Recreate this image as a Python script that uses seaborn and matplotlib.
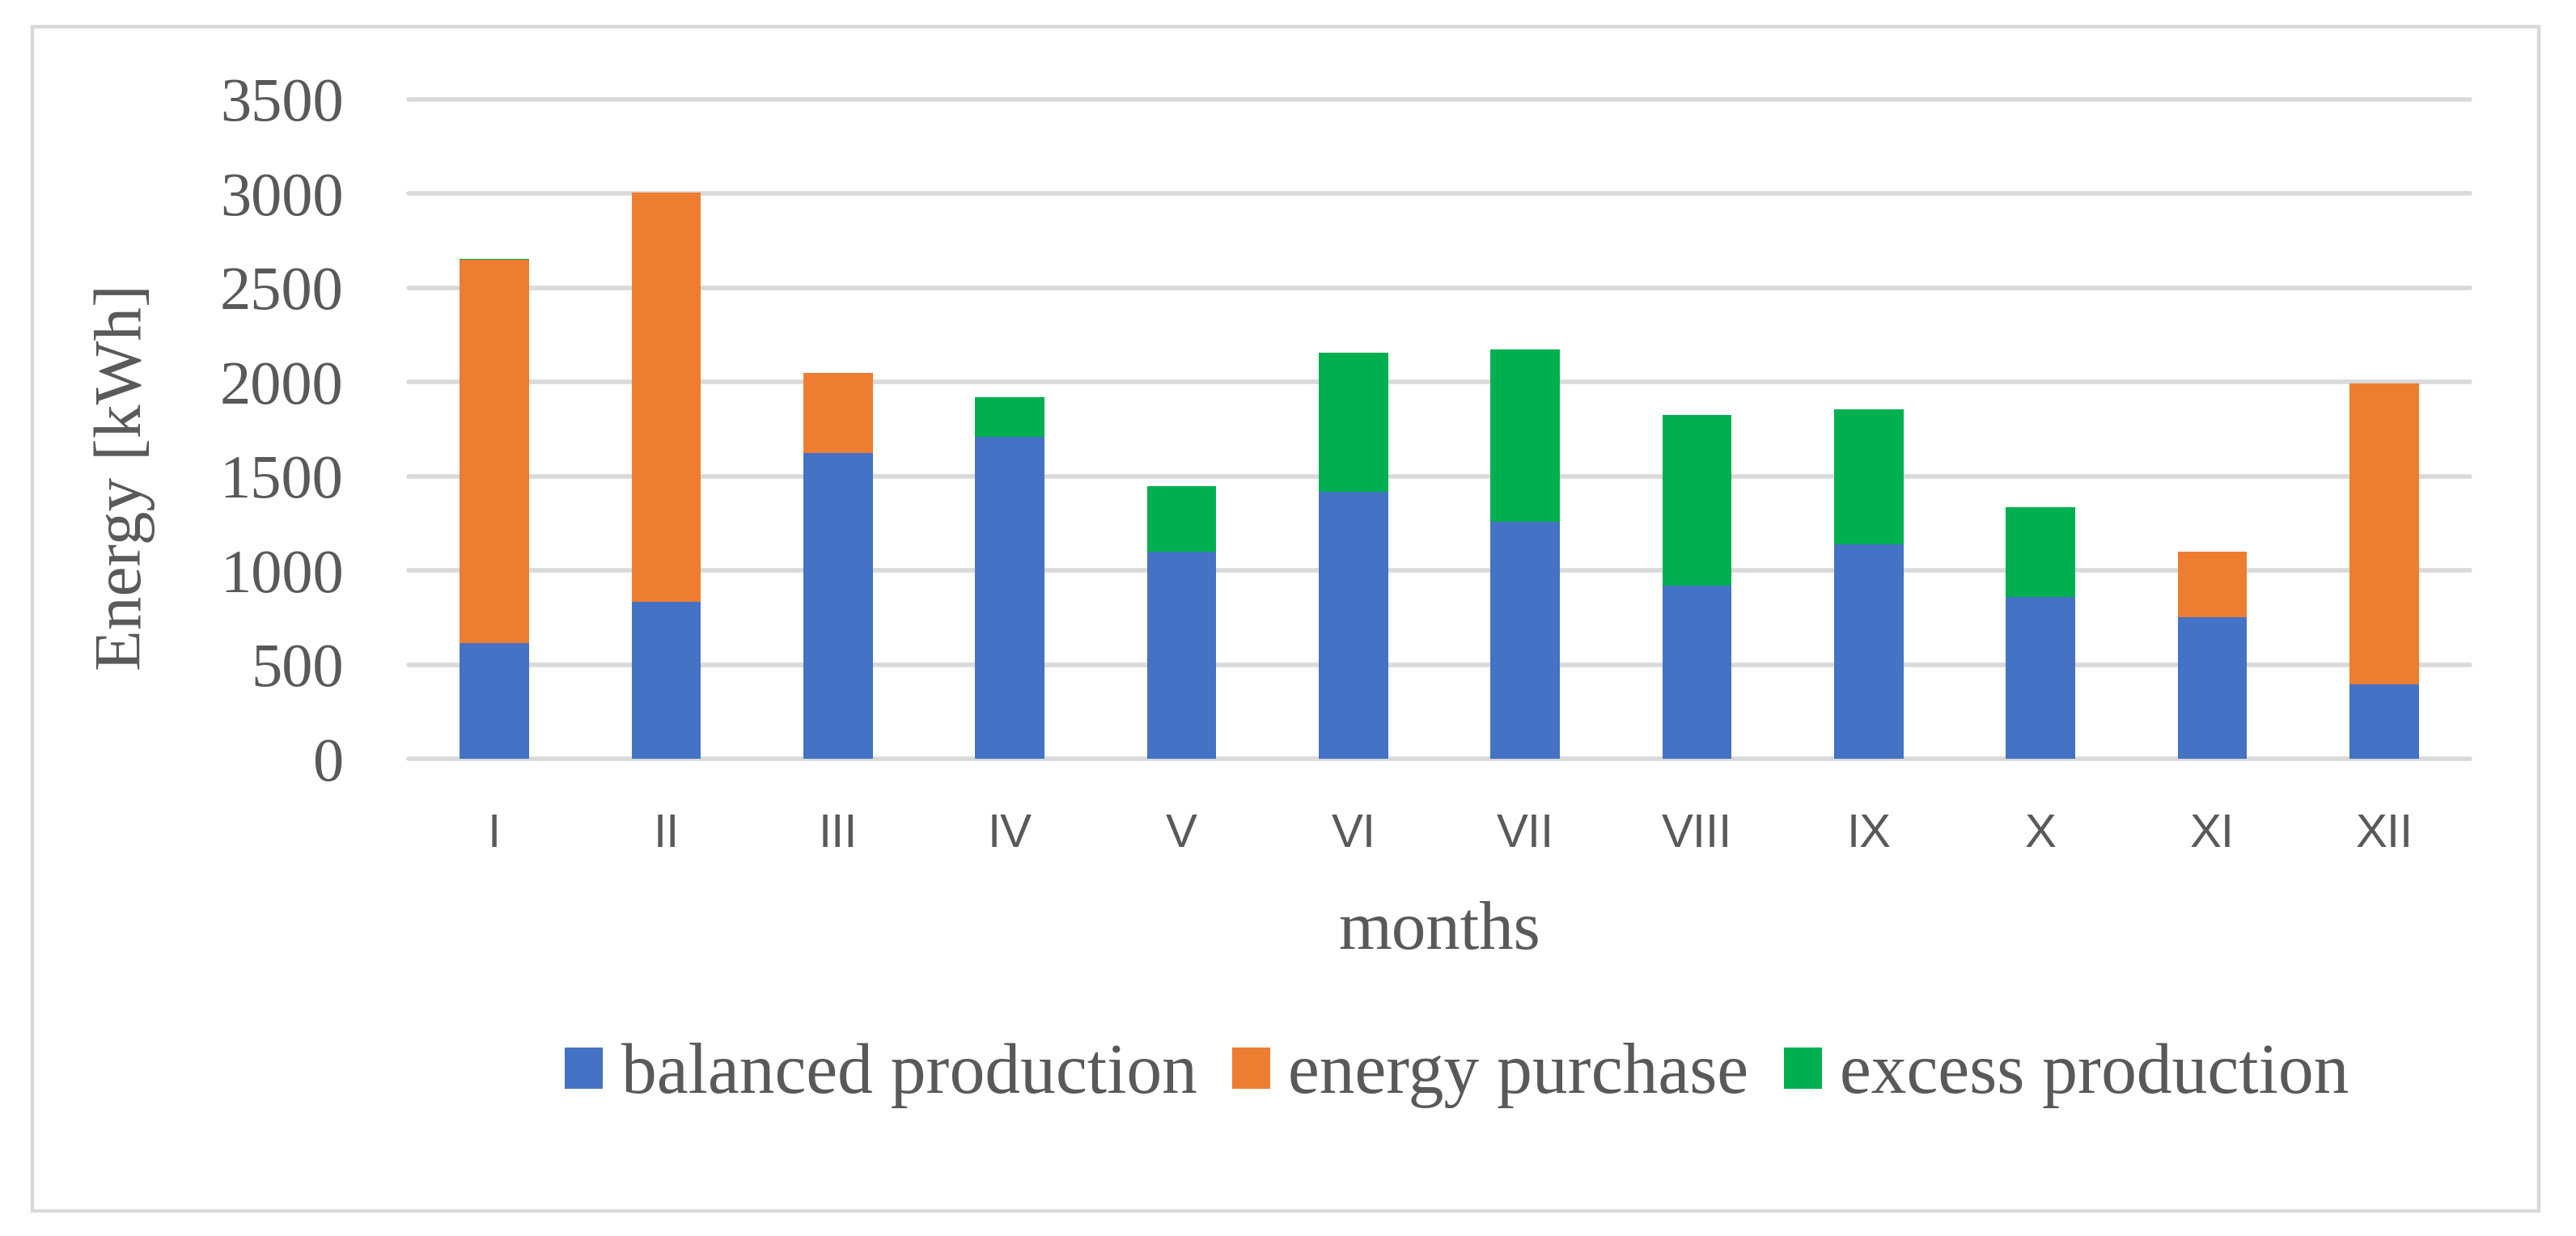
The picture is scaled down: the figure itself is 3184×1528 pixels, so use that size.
import numpy as np
import pandas as pd
import matplotlib
matplotlib.use("Agg")
import matplotlib.pyplot as plt
from matplotlib.patches import Patch, Rectangle
import seaborn as sns

months = ["I", "II", "III", "IV", "V", "VI", "VII", "VIII", "IX", "X", "XI", "XII"]
balanced = [616, 835, 1624, 1709, 1098, 1416, 1257, 918, 1137, 857, 750, 397]
purchase = [2035, 2172, 425, 0, 0, 0, 0, 0, 0, 0, 348, 1597]
excess = [5, 0, 0, 211, 351, 740, 918, 909, 720, 480, 0, 0]
series_names = ["balanced production", "energy purchase", "excess production"]
yticks = [0, 500, 1000, 1500, 2000, 2500, 3000, 3500]

C_BLUE, C_ORANGE, C_GREEN = "#4472C4", "#ED7D31", "#00B050"
TXT = "#595959"
GRID = "#D9D9D9"

sns.set_theme(style="white")
plt.rcParams["font.family"] = ["Liberation Serif", "DejaVu Serif"]

df = pd.DataFrame({"month": months, "balanced": balanced,
                   "purchase": purchase, "excess": excess})
df["lvl1"] = df["balanced"]
df["lvl2"] = df["balanced"] + df["purchase"]
df["lvl3"] = df["lvl2"] + df["excess"]

W, H, DPI = 3184, 1528, 200
fig = plt.figure(figsize=(W / DPI, H / DPI), dpi=DPI)
fig.patch.set_facecolor("white")
L, R, T, B = 505, 3053, 123, 938
ax = fig.add_axes([L / W, 1 - B / H, (R - L) / W, (B - T) / H])

for col, c in [("lvl3", "#3DB58A"), ("lvl2", C_ORANGE), ("lvl1", C_BLUE)]:
    pass

layers = [("lvl3", C_GREEN), ("lvl2", C_ORANGE), ("lvl1", C_BLUE)]
for col, c in layers:
    sns.barplot(data=df, x="month", y=col, order=months, color=c,
                width=0.405, saturation=1, linewidth=0, ax=ax, zorder=3)

ax.set_xlim(-0.5, 11.5)
ax.set_ylim(0, 3500)
ax.set_yticks(yticks)
ax.set_yticklabels([str(v) for v in yticks])
for s in ax.spines.values():
    s.set_visible(False)
ax.grid(False)
for v in yticks:
    ax.axhline(v, color=GRID, lw=2.0, zorder=1, clip_on=False)
ax.tick_params(axis="both", length=0)
ax.tick_params(axis="y", pad=29, labelsize=27.5, labelcolor=TXT)
ax.tick_params(axis="x", pad=24, labelsize=21, labelcolor=TXT)
for lab in ax.get_xticklabels():
    lab.set_family(["Liberation Sans", "DejaVu Sans"])

ax.set_ylabel("Energy [kWh]", fontsize=30, color=TXT)
ax.yaxis.label.set_va("center")
ax.yaxis.set_label_coords((154 - L) / (R - L), (B - 590) / (B - T))
ax.set_xlabel("months", fontsize=30.5, color=TXT)
ax.xaxis.label.set_va("center")
ax.xaxis.set_label_coords(0.5, (B - 1152) / (B - T))

handles = [Patch(facecolor=C_BLUE, edgecolor="none"),
           Patch(facecolor=C_ORANGE, edgecolor="none"),
           Patch(facecolor=C_GREEN, edgecolor="none")]
leg = fig.legend(handles, series_names, loc="center",
                 bbox_to_anchor=(1801 / W, 1 - 1330 / H), ncol=3, frameon=False,
                 fontsize=31.5, handlelength=0.53, handleheight=0.53,
                 handletextpad=0.26, columnspacing=0.5, borderaxespad=0)
for t in leg.get_texts():
    t.set_color(TXT)

fig.patches.append(Rectangle((40 / W, 1 - 1497 / H), (3138 - 40) / W, (1497 - 33) / H,
                             transform=fig.transFigure, fill=False,
                             edgecolor=GRID, lw=1.6))

fig.savefig("out.png", dpi=DPI, facecolor="white")
